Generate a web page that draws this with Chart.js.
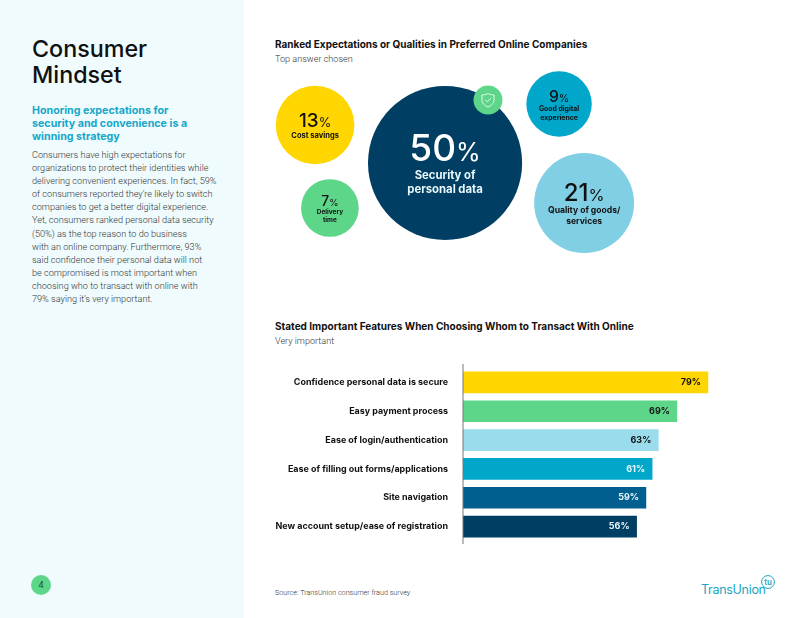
<!DOCTYPE html>
<html>
<head>
<meta charset="utf-8">
<title>Consumer Mindset</title>
<script src="https://cdn.jsdelivr.net/npm/chart.js@4"></script>
<style>
  html, body { margin: 0; padding: 0; background: #fff; }
  #page { position: relative; width: 800px; height: 618px; overflow: hidden; font-family: "Roboto", sans-serif; }
  #page div, #page canvas, #page svg { position: absolute; white-space: nowrap; }
  #side { left: 0; top: 0; width: 244px; height: 618px; background: #effbfd; }
  #heading { left: 32px; top: 36px; font: 500 23.3px/26px "Inter", sans-serif; color: #111; }
  #sub { left: 32px; top: 104px; font: 700 10.7px/13px "Inter", sans-serif; color: #18a7c9; }
  #body { left: 32px; top: 149px; font: 300 9.15px/13.1px "Roboto", sans-serif; color: #333; }
  #pageNo { left: 31px; top: 575px; width: 20px; height: 20px; border-radius: 50%; background: #5ed68a; color: #14532d; font: 400 9px/20px "Roboto", sans-serif; text-align: center; }
  .title { left: 275px; font: 700 10px/14px "Inter", sans-serif; color: #111; }
  .note { left: 275px; font: 300 9.1px/14px "Roboto", sans-serif; color: #333; }
  #source { left: 275px; top: 587px; font: 300 7.2px/11px "Roboto", sans-serif; color: #333; }
  #logo { left: 701px; top: 581px; font: 400 12.5px/17px "Inter", sans-serif; color: #19a5c4; letter-spacing: -0.3px; }
  #bubbles { left: 260px; top: 60px; }
  #bars { left: 260px; top: 364px; }
</style>
</head>
<body>
<div id="page">
  <div id="side"></div>
  <div id="heading">Consumer<br>Mindset</div>
  <div id="sub">Honoring expectations for<br>security and convenience is a<br>winning strategy</div>
  <div id="body">Consumers have high expectations for<br>organizations to protect their identities while<br>delivering convenient experiences. In fact, 59%<br>of consumers reported they’re likely to switch<br>companies to get a better digital experience.<br>Yet, consumers ranked personal data security<br>(50%) as the top reason to do business<br>with an online company. Furthermore, 93%<br>said confidence their personal data will not<br>be compromised is most important when<br>choosing who to transact with online with<br>79% saying it’s very important.</div>
  <div id="pageNo">4</div>

  <div class="title" style="top:37px">Ranked Expectations or Qualities in Preferred Online Companies</div>
  <div class="note" style="top:52px">Top answer chosen</div>
  <canvas id="bubbles" width="380" height="200"></canvas>

  <!-- shield badge on the big bubble -->
  <svg style="left:473px;top:85px" width="30" height="30" viewBox="0 0 30 30">
    <circle cx="15" cy="15" r="14.5" fill="#5ed68a"/>
    <path d="M15 8.5 C17.5 9.8 19.5 10 21 10 L21 15 C21 18.5 18.5 20.5 15 22 C11.5 20.5 9 18.5 9 15 L9 10 C10.5 10 12.5 9.8 15 8.5 Z" fill="none" stroke="#e4f8ec" stroke-width="1"/>
    <path d="M12.3 14.8 L14.3 16.8 L18 13" fill="none" stroke="#e4f8ec" stroke-width="1"/>
  </svg>

  <div class="title" style="top:319px">Stated Important Features When Choosing Whom to Transact With Online</div>
  <div class="note" style="top:334px">Very important</div>
  <canvas id="bars" width="451" height="180"></canvas>

  <div id="source">Source: TransUnion consumer fraud survey</div>
  <div id="logo">TransUnion</div>
  <svg style="left:760px;top:574px" width="16" height="16" viewBox="0 0 16 16">
    <circle cx="8" cy="8" r="6.4" fill="#fff" stroke="#19a5c4" stroke-width="1"/>
    <text x="8" y="11" text-anchor="middle" font-family="Inter" font-size="8" font-weight="600" fill="#19a5c4">tu</text>
  </svg>
</div>

<script>
// top answer chosen
const bubbleValues = [50, 13, 7, 9, 21];
const bubbleLabels = [
  ["Security of", "personal data"],
  ["Cost savings"],
  ["Delivery", "time"],
  ["Good digital", "experience"],
  ["Quality of goods/", "services"],
];
const bubbleColors = ["#003f63", "#ffd600", "#5ed68a", "#00a7cb", "#80cfe5"];
// where each bubble sits on the 0-100 layout axes
const bubbleAcross = [48.7, 14.5, 18.4, 78.7, 85.3];
const bubbleUp = [48.5, 67.5, 26, 78, 28.5];

// very important
const featureNames = [
  "Confidence personal data is secure",
  "Easy payment process",
  "Ease of login/authentication",
  "Ease of filling out forms/applications",
  "Site navigation",
  "New account setup/ease of registration",
];
const featureValues = [79, 69, 63, 61, 59, 56];
const featureColors = ["#ffd600", "#5ed68a", "#9adcec", "#00a7cb", "#005f8f", "#003f63"];
const featureTextColors = ["#111", "#111", "#111", "#e8f8fb", "#e8f8fb", "#e8f8fb"];

const boldFont = '"Inter", sans-serif';

// number and caption stacked in the middle of each bubble
const bubbleText = {
  id: "bubbleText",
  afterDatasetsDraw(chart) {
    const ctx = chart.ctx;
    chart.getDatasetMeta(0).data.forEach((pt, i) => {
      const r = pt.options.radius;
      const size = r * 0.48;
      const labelSize = 3.6 + r * 0.1;
      const lineH = labelSize * 1.25;
      const gap = r * 0.1;
      const lines = bubbleLabels[i];
      const blockH = size * 0.73 + gap + lines.length * lineH;
      const base = pt.y + 2 - blockH / 2 + size * 0.73;
      const num = String(bubbleValues[i]);
      const color = i === 0 ? "#fff" : "#111";

      ctx.save();
      ctx.fillStyle = color;
      ctx.textBaseline = "alphabetic";
      ctx.textAlign = "left";
      ctx.font = "500 " + size + "px " + boldFont;
      const numW = ctx.measureText(num).width;
      ctx.font = "400 " + size * 0.68 + "px " + boldFont;
      const pctW = ctx.measureText("%").width;
      const left = pt.x - (numW + pctW) / 2;
      ctx.font = "500 " + size + "px " + boldFont;
      ctx.fillText(num, left, base);
      ctx.font = "400 " + size * 0.68 + "px " + boldFont;
      ctx.fillText("%", left + numW, base);

      ctx.font = "700 " + labelSize + "px " + boldFont;
      ctx.textAlign = "center";
      ctx.textBaseline = "middle";
      ctx.fillStyle = i === 0 ? "#e8f8fb" : "#111";
      lines.forEach((line, n) => {
        ctx.fillText(line, pt.x, base + gap + lineH * (n + 0.5));
      });
      ctx.restore();
    });
  },
};

new Chart(document.getElementById("bubbles"), {
  type: "bubble",
  data: {
    datasets: [
      {
        data: bubbleValues.map((v, i) => ({
          x: bubbleAcross[i],
          y: bubbleUp[i],
          r: Math.sqrt(v) * 10.9,
        })),
        backgroundColor: bubbleColors,
        borderWidth: 0,
        hoverBorderWidth: 0,
      },
    ],
  },
  options: {
    responsive: false,
    animation: false,
    layout: { padding: 0, autoPadding: false },
    plugins: { legend: { display: false }, tooltip: { enabled: false } },
    scales: {
      x: { display: false, min: 0, max: 100 },
      y: { display: false, min: 0, max: 100 },
    },
  },
  plugins: [bubbleText],
});

// percentages inside the bar ends plus the vertical baseline
const barExtras = {
  id: "barExtras",
  afterDatasetsDraw(chart) {
    const ctx = chart.ctx;
    const area = chart.chartArea;
    ctx.save();
    chart.getDatasetMeta(0).data.forEach((bar, i) => {
      ctx.font = "700 9px " + boldFont;
      ctx.fillStyle = featureTextColors[i];
      ctx.textAlign = "right";
      ctx.textBaseline = "middle";
      ctx.fillText(featureValues[i] + "%", bar.x - 7, bar.y);
    });
    ctx.strokeStyle = "#777";
    ctx.lineWidth = 1;
    ctx.beginPath();
    ctx.moveTo(area.left, 0);
    ctx.lineTo(area.left, chart.height);
    ctx.stroke();
    ctx.restore();
  },
};

new Chart(document.getElementById("bars"), {
  type: "bar",
  data: {
    labels: featureNames,
    datasets: [
      {
        data: featureValues,
        backgroundColor: featureColors,
        barThickness: 21,
        borderWidth: 0,
      },
    ],
  },
  options: {
    indexAxis: "y",
    responsive: false,
    animation: false,
    layout: { padding: { top: 4, bottom: 3 }, autoPadding: false },
    plugins: { legend: { display: false }, tooltip: { enabled: false } },
    scales: {
      x: { display: false, min: 0, max: 80 },
      y: {
        afterFit(axis) {
          // fixed gutter for the names, no extra inset above or below the rows
          axis.width = 203;
          axis.paddingTop = 0;
          axis.paddingBottom = 0;
        },
        grid: { display: false, drawTicks: false },
        border: { display: false },
        ticks: {
          autoSkip: false,
          padding: 15,
          color: "#111",
          font: { family: "Inter", size: 8.95, weight: "700" },
        },
      },
    },
  },
  plugins: [barExtras],
});
</script>
</body>
</html>
